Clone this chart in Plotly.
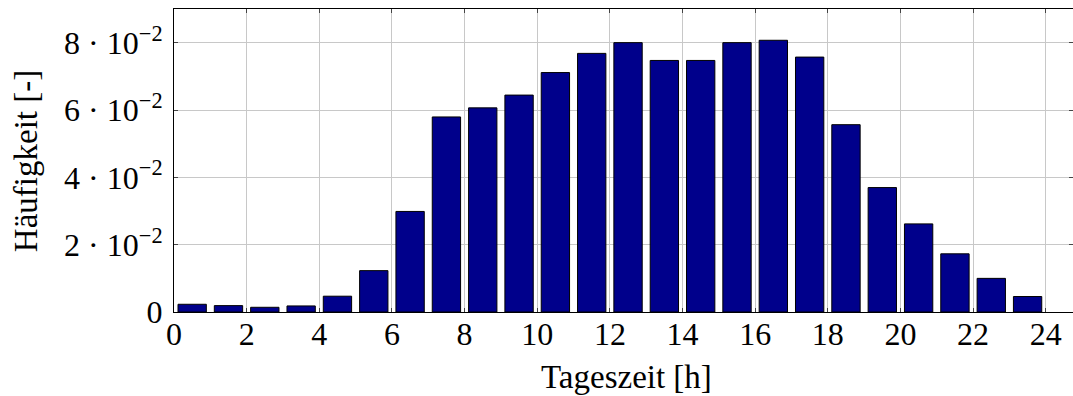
import plotly.graph_objects as go

hours = [h + 0.5 for h in range(24)]
freq = [0.0023, 0.0019, 0.0014, 0.0018, 0.0047, 0.0123, 0.0299, 0.0580,
        0.0607, 0.0645, 0.0712, 0.0769, 0.0801, 0.0748, 0.0748, 0.0801,
        0.0808, 0.0758, 0.0557, 0.0370, 0.0262, 0.0173, 0.0100, 0.0046]
x_ticks = list(range(0, 25, 2))
y_ticks = [0, 0.02, 0.04, 0.06, 0.08]
y_ticktext = ["0", "2 · 10<sup>−2</sup>", "4 · 10<sup>−2</sup>",
              "6 · 10<sup>−2</sup>", "8 · 10<sup>−2</sup>"]

FONT = "Liberation Serif"
FS = 32
FT = 33

fig = go.Figure(go.Bar(
    x=hours, y=freq, width=0.78,
    marker=dict(color="#00008B", line=dict(color="black", width=1)),
))

fig.update_layout(
    width=1073, height=396,
    margin=dict(l=174, r=0, t=9, b=84),
    plot_bgcolor="white", paper_bgcolor="white",
    font=dict(family=FONT, size=FS, color="black"),
    showlegend=False,
    annotations=[
        dict(text="Tageszeit [h]", xref="paper", yref="paper", x=0.503, y=-0.215,
             xanchor="center", yanchor="middle", showarrow=False,
             font=dict(family=FONT, size=FT)),
        dict(text="Häufigkeit [-]", xref="paper", yref="paper", x=-0.1646, y=0.498,
             xanchor="center", yanchor="middle", showarrow=False, textangle=-90,
             font=dict(family=FONT, size=FT)),
    ],
)
fig.update_xaxes(
    range=[0, 24.75], tickvals=x_ticks, ticktext=[str(v) for v in x_ticks],
    showgrid=True, gridcolor="#c8c8c8", gridwidth=1,
    showline=True, linecolor="black", linewidth=1, mirror="ticks",
    ticks="inside", ticklen=4, tickcolor="#444", zeroline=False,
    tickfont=dict(size=FS), ticklabelstandoff=-6,
)
fig.update_yaxes(
    range=[0, 0.0901], tickvals=y_ticks, ticktext=y_ticktext,
    showgrid=True, gridcolor="#c8c8c8", gridwidth=1,
    showline=True, linecolor="black", linewidth=1, mirror="ticks",
    ticks="inside", ticklen=4, tickcolor="#444", zeroline=False,
    tickfont=dict(size=FS), ticklabelstandoff=4,
)

fig.write_html("out.html")
